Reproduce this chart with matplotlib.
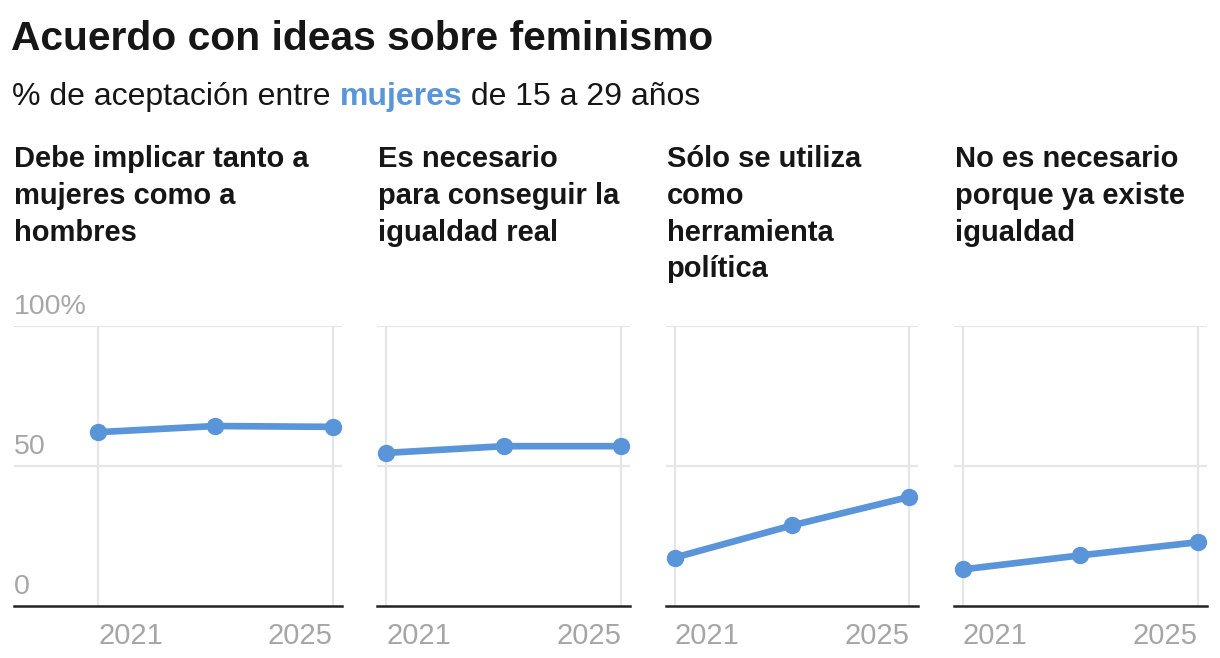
import matplotlib
matplotlib.use("Agg")
import matplotlib.pyplot as plt

# Data
years = [2021, 2023, 2025]
panel_titles = [
    "Debe implicar tanto a\nmujeres como a\nhombres",
    "Es necesario\npara conseguir la\nigualdad real",
    "Sólo se utiliza\ncomo\nherramienta\npolítica",
    "No es necesario\nporque ya existe\nigualdad",
]
implicar = [61.9, 64.1, 63.8]
necesario = [54.5, 56.9, 56.9]
herramienta = [17.1, 28.6, 38.8]
ya_igualdad = [12.9, 17.9, 22.6]
series = [implicar, necesario, herramienta, ya_igualdad]
y_ticks = [0, 50, 100]
y_labels = ["0", "50", "100%"]
x_ticks = [2021, 2025]

plt.rcParams['font.family'] = ['Liberation Sans', 'DejaVu Sans']

BLUE = "#5b95d9"
GRAY = "#a6a6a6"
GRID = "#e6e6e6"
DARK = "#161616"

W, H = 1220, 658
fig = plt.figure(figsize=(W / 100, H / 100), dpi=100)

fig.text(11 / W, 1 - 39 / H, "Acuerdo con ideas sobre feminismo", fontsize=29.3,
         fontweight="bold", color=DARK, va="center", ha="left")

# subtitle with the highlighted word
parts = [("% de aceptación entre ", "normal", DARK),
         ("mujeres", "bold", BLUE),
         (" de 15 a 29 años", "normal", DARK)]
renderer = fig.canvas.get_renderer()
xpos = 12
for txt, wt, col in parts:
    t = fig.text(xpos / W, 1 - 97 / H, txt, fontsize=23, fontweight=wt, color=col,
                 va="center", ha="left")
    bb = t.get_window_extent(renderer=renderer)
    xpos += bb.width

step = 288.3
y0_px, y100_px = 605.5, 325.5
px_year = 58.7
for i, (title, vals) in enumerate(zip(panel_titles, series)):
    x2021 = 98 + step * i
    left_px = 14 if i == 0 else x2021 - 9
    right_px = x2021 + 4 * px_year + 9
    ax = fig.add_axes([left_px / W, 1 - y0_px / H, (right_px - left_px) / W,
                       (y0_px - y100_px) / H])
    ax.set_xlim(2021 - (x2021 - left_px) / px_year, 2025 + 9 / px_year)
    ax.set_ylim(0, 100)
    for s in ["top", "right", "left"]:
        ax.spines[s].set_visible(False)
    ax.spines["bottom"].set_color("#222222")
    ax.spines["bottom"].set_linewidth(1.8)
    ax.spines["bottom"].set_zorder(4)
    for yt in y_ticks[1:]:
        ax.axhline(yt, color=GRID, lw=1.6, zorder=0)
    for xt in x_ticks:
        ax.axvline(xt, color=GRID, lw=1.6, zorder=0)
    ax.set_xticks([])
    ax.set_yticks([])
    ax.plot(years, vals, color=BLUE, lw=4.8, marker="o", markersize=11.5,
            solid_capstyle="round", clip_on=False, zorder=5)
    # x tick labels
    ax.text(2021, -11, "2021", fontsize=21, color=GRAY, ha="left", va="center")
    ax.text(2025, -11, "2025", fontsize=21, color=GRAY, ha="right", va="center")
    if i == 0:
        xl = ax.get_xlim()[0]
        for yt, lab in zip(y_ticks, y_labels):
            ax.text(xl, yt + 2, lab, fontsize=20.5, color=GRAY, ha="left", va="bottom")
    fig.text((x2021 - 84 if i == 0 else x2021 - 8) / W, 1 - 145 / H, title, fontsize=21,
             fontweight="bold", color=DARK, ha="left", va="top", linespacing=1.4)

fig.savefig("out.png", dpi=100, facecolor="white")
